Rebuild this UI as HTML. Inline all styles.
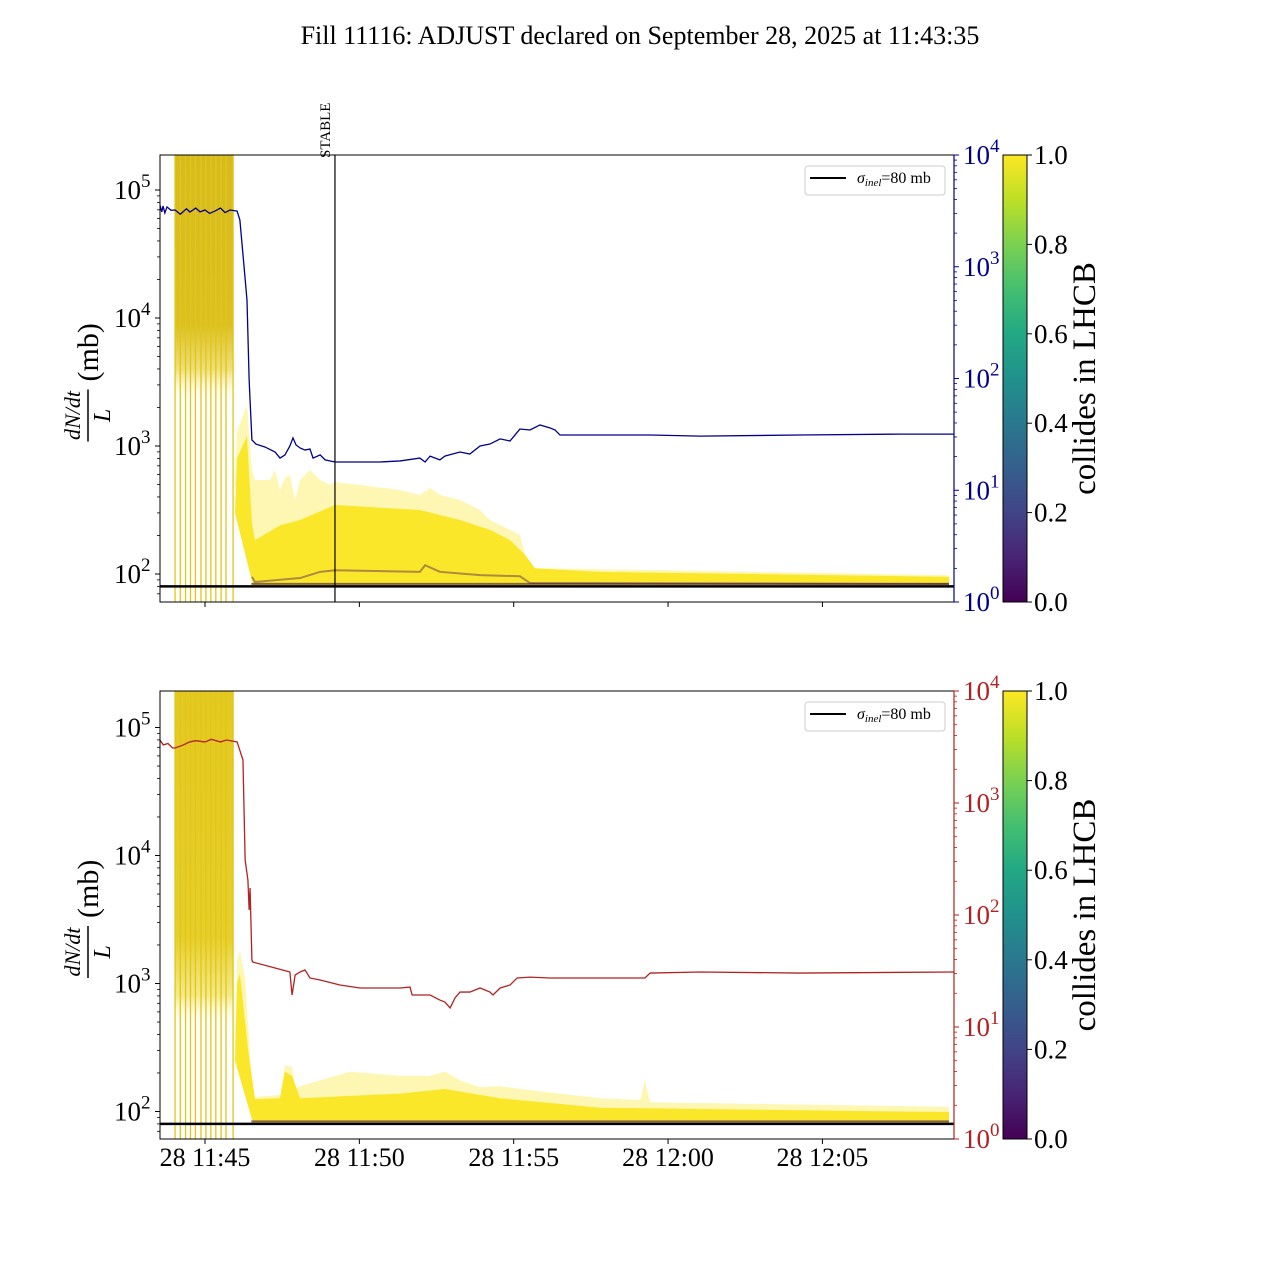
<!DOCTYPE html>
<html><head><meta charset="utf-8">
<style>
html,body{margin:0;padding:0;background:#fff;}
svg{display:block;font-family:"Liberation Serif","DejaVu Serif",serif;}
</style></head>
<body>
<svg id="fig" width="1280" height="1280" viewBox="0 0 1280 1280" xmlns="http://www.w3.org/2000/svg">
<defs>
<linearGradient id="viridis" x1="0" y1="1" x2="0" y2="0">
<stop offset="0" stop-color="#440154"/><stop offset="0.1" stop-color="#482475"/><stop offset="0.2" stop-color="#414487"/><stop offset="0.3" stop-color="#355f8d"/><stop offset="0.4" stop-color="#2a788e"/><stop offset="0.5" stop-color="#21918c"/><stop offset="0.6" stop-color="#22a884"/><stop offset="0.7" stop-color="#44bf70"/><stop offset="0.8" stop-color="#7ad151"/><stop offset="0.9" stop-color="#bddf26"/><stop offset="1" stop-color="#fde725"/>
</linearGradient>
<linearGradient id="denseTop" x1="0" y1="0" x2="0" y2="1">
<stop offset="0" stop-color="#d7bb1e"/><stop offset="0.38" stop-color="#dcc021"/><stop offset="0.48" stop-color="#efe07a"/><stop offset="0.56" stop-color="#ffffff" stop-opacity="0"/>
</linearGradient>
<linearGradient id="denseBot" x1="0" y1="0" x2="0" y2="1">
<stop offset="0" stop-color="#e3c91f"/><stop offset="0.55" stop-color="#e6cf2a"/><stop offset="0.68" stop-color="#f4ea8a"/><stop offset="0.75" stop-color="#ffffff" stop-opacity="0"/>
</linearGradient>
<clipPath id="clipTop"><rect x="160" y="155" width="794" height="447"/></clipPath>
<clipPath id="clipBot"><rect x="160" y="691" width="794" height="448"/></clipPath>
</defs>
<text x="640" y="44" font-size="26" text-anchor="middle">Fill 11116: ADJUST declared on September 28, 2025 at 11:43:35</text>
<g id="gTop"></g>
<g id="gBot"></g>
</svg>
<script>
// ---- data (time in minutes relative to 11:45) ----
const tickLabels = ["28 11:45","28 11:50","28 11:55","28 12:00","28 12:05"];
const tickMinutes = [0,5,10,15,20];
const leftTickExp = [2,3,4,5];
const rightTickExp = [0,1,2,3,4];
const cbTicks = [0.0,0.2,0.4,0.6,0.8,1.0];
const sigmaInel = 80;
const stableMinute = 4.21;
const denseStart = -0.97, denseEnd = 0.91;
const denseLines = [-0.97,-0.80,-0.63,-0.47,-0.31,-0.13,0.03,0.19,0.35,0.52,0.68,0.91];

const blueT = [-1.46,-1.40,-1.36,-1.30,-1.23,-1.1,-0.97,-0.8,-0.6,-0.49,-0.3,-0.16,0,0.15,0.32,0.5,0.65,0.81,1.04,1.13,1.26,1.36,1.43,1.46,1.52,1.65,1.94,2.27,2.43,2.59,2.75,2.85,2.95,3.08,3.24,3.40,3.50,3.73,3.89,4.21,5.67,6.32,6.96,7.13,7.29,7.61,7.77,8.26,8.58,8.91,9.23,9.56,9.88,10.04,10.20,10.53,10.85,11.18,11.34,11.50,14.42,16.04,19.27,22.51,24.26];
const blueV = [3570,3100,3500,3030,3430,3200,3220,2950,3300,3090,3350,3100,3220,3000,3150,3350,3050,3220,3150,2620,1040,504,97,64,28.2,25.9,24.4,22.0,19.4,20.7,24.9,29.4,25.4,23.9,22.9,23.4,19.4,20.7,18.7,17.9,17.9,18.3,19.4,17.9,20.2,18.7,20.2,22.0,21.1,24.9,25.9,28.8,27.6,31.2,35.3,34.6,38.4,36.1,34.6,31.2,31.2,30.5,31.2,31.8,31.8];

const redT = [-1.46,-1.35,-1.2,-1.05,-0.97,-0.7,-0.5,-0.3,0,0.2,0.5,0.7,1.04,1.23,1.30,1.39,1.43,1.46,1.52,1.55,2.27,2.75,2.82,2.92,3.08,3.24,3.40,3.73,4.37,5.02,6.32,6.64,6.71,7.29,7.61,7.77,7.94,8.10,8.26,8.58,8.91,9.23,9.33,9.56,9.88,10.11,10.53,11.18,12.80,14.25,14.42,16.04,19.27,24.26];
const redV = [3650,3300,3400,3100,3100,3300,3510,3600,3510,3700,3510,3650,3510,2420,310,205,111,174,39.6,38.0,33.6,31.0,19.3,29.1,31.0,32.3,27.4,26.3,23.7,22.3,22.3,22.7,19.3,19.3,17.4,16.7,14.8,18.2,20.5,20.5,22.3,20.5,19.3,22.3,23.7,27.4,27.9,27.4,27.4,27.4,30.3,31.0,30.3,31.0];

// yellow band envelopes (left axis, mb): upper and lower edges
const topOuterT = [1.04,1.36,1.52,1.62,2.11,2.27,2.43,2.59,2.75,2.92,3.08,3.40,3.73,4.05,4.21,6.32,6.96,7.29,7.61,8.26,8.91,9.23,9.56,9.88,10.20,10.37,10.53,10.69,12.80,24.10];
const topOuterV = [1300,2090,650,542,542,650,453,562,593,379,542,650,542,496,523,453,414,470,414,379,316,264,241,221,202,141,117,111,109,98];
const topOuterLowT = [0.97,1.55,24.10];
const topOuterLowV = [500,82,82];
const topCoreT = [1.04,1.36,1.52,1.62,2.43,3.08,4.21,6.96,8.26,9.23,9.88,10.37,10.69,12.80,24.10];
const topCoreV = [800,1200,250,184,240,264,346,316,264,221,184,141,111,104,95];
const topCoreLowT = [0.97,1.55,24.10];
const topCoreLowV = [300,82,82];
const topDarkT = [1.52,1.62,3.08,3.73,4.21,6.96,7.13,7.61,8.91,10.20,10.53,24.10];
const topDarkV = [95,86.6,93,104,107,104,117,104,98,96,85,83.6];

const botOuterT = [1.04,1.13,1.30,1.52,1.62,2.43,2.59,2.82,2.92,3.08,4.70,6.32,7.29,7.77,8.26,8.91,9.56,10.20,12.80,14.10,14.25,14.42,24.10];
const botOuterV = [1500,1800,1100,160,130,135,230,224,150,158,205,190,190,205,175,155,158,150,127,123,175,118,109];
const botOuterLowT = [0.97,1.55,24.10];
const botOuterLowV = [320,82,82];
const botCoreT = [1.04,1.13,1.40,1.62,2.43,2.59,2.82,3.08,6.32,7.77,9.56,12.80,24.10];
const botCoreV = [1000,1200,300,125,127,205,190,127,138,150,127,107,99];
const botCoreLowT = [0.97,1.55,24.10];
const botCoreLowV = [250,82,82];

// ---- layout ----
const X0=160, X1=954, PXMIN=30.87, XT0=205;
function xs(t){return XT0 + t*PXMIN;}
const panels = [
 {g:'gTop', top:155, bot:602, dec100:574, clip:'clipTop', color:'#00008b', lineT:blueT, lineV:blueV, outT:topOuterT,outV:topOuterV,outLT:topOuterLowT,outLV:topOuterLowV, coreT:topCoreT, coreV:topCoreV, coreLT:topCoreLowT, coreLV:topCoreLowV, darkT:topDarkT, darkV:topDarkV, labels:false, stable:true, dense:'denseTop', name:'top'},
 {g:'gBot', top:691, bot:1139, dec100:1111.5, clip:'clipBot', color:'#b22222', lineT:redT, lineV:redV, outT:botOuterT,outV:botOuterV,outLT:botOuterLowT,outLV:botOuterLowV, coreT:botCoreT, coreV:botCoreV, coreLT:botCoreLowT, coreLV:botCoreLowV, darkT:null, darkV:null, labels:true, stable:false, dense:'denseBot', name:'bottom'}
];
const NS='http://www.w3.org/2000/svg';
function el(tag, attrs, parent){const e=document.createElementNS(NS,tag);for(const k in attrs)e.setAttribute(k,attrs[k]);parent.appendChild(e);return e;}

panels.forEach(p=>{
  const g=document.getElementById(p.g);
  const yl=v=>p.dec100-(Math.log10(v)-2)*128;
  const yr=v=>p.top+(4-Math.log10(v))*(p.bot-p.top)/4;
  const yBase=yl(sigmaInel);
  const c=el('g',{'clip-path':'url(#'+p.clip+')'},g);
  
  
  const dr=el('rect',{x:xs(denseStart),y:p.top,width:xs(denseEnd)-xs(denseStart),height:p.bot-p.top,fill:'url(#'+p.dense+')'},c);
  
  
  denseLines.forEach(t=>{
    const l=el('line',{x1:xs(t),x2:xs(t),y1:p.top,y2:p.bot,stroke:'#e2c51a','stroke-width':1.3},c);
    
    
  });
  function poly(T,V,LT,LV,op,fill,nm){
    let pts=[xs(LT[0])+','+yl(LV[0])];
    T.forEach((t,i)=>pts.push(xs(t)+','+yl(V[i])));
    for(let i=LT.length-1;i>=1;i--)pts.push(xs(LT[i])+','+yl(LV[i]));
    const pg=el('polygon',{points:pts.join(' '),fill:fill,'fill-opacity':op},c);
    
    
  }
  poly(p.outT,p.outV,p.outLT,p.outLV,0.35,'#fde725',p.name+'-band-outer');
  poly(p.coreT,p.coreV,p.coreLT,p.coreLV,0.95,'#fae622',p.name+'-band-core');
  if(p.darkT){
    const pts=p.darkT.map((t,i)=>xs(t)+','+yl(p.darkV[i])).join(' ');
    const dl=el('polyline',{points:pts,fill:'none',stroke:'#4a1a5a','stroke-width':2,'stroke-opacity':0.45},c);
    
    
  }
  const bl=el('line',{x1:xs(1.5),x2:xs(24.1),y1:yBase-2.5,y2:yBase-2.5,stroke:'#3b0f4f','stroke-width':2,'stroke-opacity':0.6},c);
  
  
  const sl=el('line',{x1:X0,x2:X1,y1:yBase,y2:yBase,stroke:'#000','stroke-width':2.5},c);
  
  
  const rp=p.lineT.map((t,i)=>xs(t)+','+yr(p.lineV[i])).join(' ');
  const rl=el('polyline',{points:rp,fill:'none',stroke:p.color,'stroke-width':1.3},c);
  
  
  if(p.stable){
    const st=el('line',{x1:xs(stableMinute),x2:xs(stableMinute),y1:p.top,y2:p.bot,stroke:'#000','stroke-width':1.2},g);
    
    
    const tx=el('text',{x:0,y:0,'font-size':15,transform:'translate('+(xs(stableMinute)-5)+','+(p.top+3)+') rotate(-90)'},g);
    tx.textContent='STABLE';
    
    
  }
  const fr=el('rect',{x:X0,y:p.top,width:X1-X0,height:p.bot-p.top,fill:'none',stroke:'#000','stroke-width':1},g);
  
  
  el('line',{x1:X1,x2:X1,y1:p.top,y2:p.bot,stroke:p.color,'stroke-width':1.2},g);
  tickMinutes.forEach((m,i)=>{
    el('line',{x1:xs(m),x2:xs(m),y1:p.bot,y2:p.bot+5,stroke:'#000'},g);
    if(p.labels){
      const t=el('text',{x:xs(m),y:p.bot+27,'font-size':26,'text-anchor':'middle'},g);
      t.textContent=tickLabels[i];
      
      
    }
  });
  leftTickExp.forEach(e=>{
    const y=yl(Math.pow(10,e));
    el('line',{x1:X0-5,x2:X0,y1:y,y2:y,stroke:'#000'},g);
    const t=el('text',{x:X0-46,y:y+9,'font-size':27},g);
    t.innerHTML='10<tspan dy="-12" font-size="19">'+e+'</tspan>';
    
    
    for(let k=2;k<10;k++){const yy=yl(k*Math.pow(10,e));if(yy>p.top&&yy<p.bot)el('line',{x1:X0-3,x2:X0,y1:yy,y2:yy,stroke:'#000','stroke-width':0.8},g);}
  });
  for(let k=6;k<10;k++){const yy=yl(k*10);if(yy<p.bot)el('line',{x1:X0-3,x2:X0,y1:yy,y2:yy,stroke:'#000','stroke-width':0.8},g);}
  rightTickExp.forEach(e=>{
    const y=yr(Math.pow(10,e));
    el('line',{x1:X1,x2:X1+5,y1:y,y2:y,stroke:p.color},g);
    const t=el('text',{x:X1+9,y:y+9,'font-size':27,fill:p.color},g);
    t.innerHTML='10<tspan dy="-12" font-size="19">'+e+'</tspan>';
    
    
    if(e<4)for(let k=2;k<10;k++){const yy=yr(k*Math.pow(10,e));el('line',{x1:X1,x2:X1+3,y1:yy,y2:yy,stroke:p.color,'stroke-width':0.8},g);}
  });
  const yg=el('g',{transform:'translate(88,'+((p.top+p.bot)/2-5)+') rotate(-90)'},g);
  
  
  const t1=el('text',{x:-42,y:-8,'font-size':22,'font-style':'italic','text-anchor':'middle'},yg);t1.textContent='dN/dt';
  el('line',{x1:-68,x2:-16,y1:0,y2:0,stroke:'#000','stroke-width':1.5},yg);
  const t2=el('text',{x:-42,y:22,'font-size':24,'font-style':'italic','text-anchor':'middle'},yg);t2.textContent='L';
  const t3=el('text',{x:-8,y:10,'font-size':30},yg);t3.textContent='(mb)';
  const lg=el('g',{},g);
  
  
  el('rect',{x:805,y:p.top+11,width:140,height:29,rx:3,fill:'#fff',stroke:'#ccc'},lg);
  el('line',{x1:810,x2:846,y1:p.top+23,y2:p.top+23,stroke:'#000','stroke-width':2},lg);
  const lt=el('text',{x:857,y:p.top+28,'font-size':16},lg);
  lt.innerHTML='<tspan font-style="italic">σ</tspan><tspan font-style="italic" font-size="11" dy="3">inel</tspan><tspan dy="-3">=80 mb</tspan>';
  const cb=el('g',{},g);
  
  
  el('rect',{x:1003,y:p.top,width:24,height:p.bot-p.top,fill:'url(#viridis)',stroke:'#000','stroke-width':1},cb);
  cbTicks.forEach(v=>{
    const y=p.bot-v*(p.bot-p.top);
    el('line',{x1:1027,x2:1032,y1:y,y2:y,stroke:'#000'},cb);
    const t=el('text',{x:1034,y:y+9,'font-size':27},cb);t.textContent=v.toFixed(1);
    
    
  });
  const cl=el('text',{x:0,y:0,'font-size':33,'text-anchor':'middle',transform:'translate(1095,'+((p.top+p.bot)/2)+') rotate(-90)'},cb);
  cl.textContent='collides in LHCB';
  
  
});
</script>
</body></html>
